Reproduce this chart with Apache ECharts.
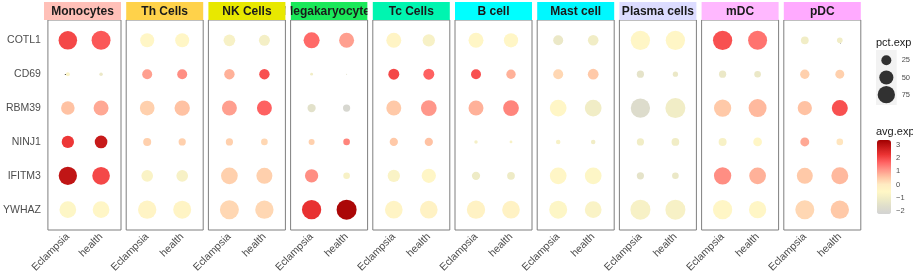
<!DOCTYPE html>
<html><head><meta charset="utf-8">
<script src="https://cdn.jsdelivr.net/npm/echarts@6/dist/echarts.min.js"></script>
<style>html,body{margin:0;padding:0;background:#fff}#c{width:913px;height:276px}</style>
</head><body><div id="c"></div>
<script>
const cellTypes = ['Monocytes','Th Cells','NK Cells','Megakaryocyte','Tc Cells','B cell','Mast cell','Plasma cells','mDC','pDC'];
const genes = ['COTL1','CD69','RBM39','NINJ1','IFITM3','YWHAZ'];
const groups = ['Eclampsia','health'];
// percent expressed, rows = cell types, columns = genes
const pctEclampsia = [
  [86, 4, 46, 38, 84, 70],
  [49, 25, 54, 16, 34, 84],
  [34, 27, 56, 13, 70, 90],
  [64, 2, 17, 9, 44, 93],
  [56, 30, 56, 17, 38, 78],
  [56, 25, 56, 3, 17, 84],
  [25, 25, 70, 5, 70, 81],
  [93, 13, 93, 13, 13, 100],
  [93, 13, 75, 16, 75, 93],
  [15, 22, 51, 20, 64, 90]
];
const pctHealth = [
  [90, 3, 56, 40, 78, 70],
  [49, 25, 59, 13, 34, 81],
  [30, 27, 56, 11, 64, 84],
  [56, 0.3, 13, 11, 11, 100],
  [38, 30, 62, 17, 51, 78],
  [51, 22, 62, 2, 15, 78],
  [28, 29, 70, 5, 70, 70],
  [93, 7, 100, 15, 11, 100],
  [90, 11, 81, 19, 70, 75],
  [8, 20, 64, 11, 72, 84]
];
// average scaled expression
const avgEclampsia = [
  [2.0, -0.7, 0.6, 2.2, 2.9, -0.6],
  [-0.5, 1.0, 0.4, 0.4, -0.7, -0.4],
  [-0.8, 0.8, 1.0, 0.4, 0.4, 0.3],
  [1.6, -1.0, -1.5, 0.4, 1.2, 2.3],
  [-0.4, 2.0, 0.5, 0.5, -0.7, -0.4],
  [-0.5, 1.9, 0.8, -0.9, -1.1, -0.3],
  [-1.2, 0.3, -0.5, -0.8, -0.5, -0.6],
  [-0.5, -1.4, -1.7, -1.0, -1.4, -0.8],
  [1.9, -1.2, 0.5, -0.8, 1.2, -0.5],
  [-1.0, 0.4, 0.6, 0.9, 0.5, 0.3]
];
const avgHealth = [
  [1.8, -1.2, 0.9, 2.8, 2.0, -0.5],
  [-0.5, 1.2, 0.6, 0.4, -0.8, -0.4],
  [-0.9, 1.9, 1.7, 0.3, 0.4, 0.3],
  [1.0, -1.5, -2.0, 1.3, -0.8, 3.2],
  [-0.8, 1.7, 1.1, 0.6, -0.5, -0.3],
  [-0.5, 0.8, 1.3, -0.8, -1.1, -0.3],
  [-1.0, 0.5, -1.0, -1.0, -0.6, -0.7],
  [-0.5, -1.2, -1.0, -1.0, -1.2, -0.8],
  [1.5, -1.2, 0.7, -0.5, 0.8, -0.5],
  [-1.0, 0.4, 1.9, 0.1, 0.7, 0.5]
];
const stripColors = ['#FFC0B8','#FFD24A','#E8E800','#1AE85A','#00F5B0','#00FFFF','#00F8FF','#DCDCFF','#FFB8FF','#FFAAFF'];
const sizeLegendValues = [25, 50, 75];
const colorTicks = [-2, -1, 0, 1, 2, 3];
const colorMin = -2.2, colorMax = 3.35;

const FONT = "'Liberation Sans', Arial, sans-serif";
const sizeFn = v => 2 * Math.sqrt(v[2]);
const P0 = 44, STEP = 82.2, PW = 77, PT = 20, PH = 210;

const grids = [], xAxes = [], yAxes = [], series = [], graphics = [];
cellTypes.forEach((ct, i) => {
  const left = P0 + i * STEP;
  grids.push({left: left, top: PT, width: PW, height: PH, show: true, borderColor: '#7F7F7F', borderWidth: 1, backgroundColor: '#fff'});
  xAxes.push({type: 'value', gridIndex: i, min: -0.6, max: 1.6,
    axisLine: {show: false}, splitLine: {show: false},
    axisTick: {show: true, length: 3, lineStyle: {color: '#333'}, customValues: [0, 1]},
    axisLabel: {show: true, rotate: 45, fontSize: 10.5, color: '#4D4D4D', fontFamily: FONT, margin: 5,
      customValues: [0, 1], formatter: v => groups[Math.round(v)] || ''}});
  yAxes.push({type: 'value', gridIndex: i, min: -0.6, max: 5.6, inverse: true,
    axisLine: {show: false}, splitLine: {show: false},
    axisTick: {show: i === 0, length: 3, lineStyle: {color: '#333'}, customValues: [0,1,2,3,4,5]},
    axisLabel: {show: i === 0, fontSize: 10.5, color: '#4D4D4D', fontFamily: FONT, margin: 7,
      customValues: [0,1,2,3,4,5], formatter: v => genes[Math.round(v)] || ''}});
  const data = [];
  genes.forEach((g, gi) => {
    data.push([0, gi, pctEclampsia[i][gi], avgEclampsia[i][gi]]);
    data.push([1, gi, pctHealth[i][gi], avgHealth[i][gi]]);
  });
  series.push({type: 'scatter', xAxisIndex: i, yAxisIndex: i, data: data, symbolSize: sizeFn,
    itemStyle: {opacity: 1}, emphasis: {disabled: true}, silent: true});
  // strip header
  const isMega = ct === 'Megakaryocyte';
  graphics.push({type: 'rect', shape: {x: left, y: 2, width: PW, height: 18}, style: {fill: stripColors[i]}, z: isMega ? 4 : 10});
  graphics.push({type: 'text', x: left + PW / 2 - (isMega ? 2.5 : 0), y: 11.5, z: isMega ? 5 : 11,
    style: {text: ct, fill: '#1A1A1A', font: 'bold 12px ' + FONT, align: 'center', verticalAlign: 'middle'}});
  if (i > 0) {
    graphics.push({type: 'rect', shape: {x: left - (STEP - PW), y: 0, width: STEP - PW, height: 20}, style: {fill: '#fff'}, z: 9});
  }
});

// size legend grid
const nS = cellTypes.length;
grids.push({left: 876, top: 50, width: 22, height: 55, show: true, backgroundColor: '#F2F2F2', borderWidth: 0});
xAxes.push({type: 'value', gridIndex: nS, min: -1, max: 1, show: false});
yAxes.push({type: 'value', gridIndex: nS, min: -0.6, max: 2.6, inverse: true, position: 'right',
  axisLine: {show: false}, axisTick: {show: false}, splitLine: {show: false},
  axisLabel: {show: true, fontSize: 7.5, color: '#4D4D4D', fontFamily: FONT, margin: 5,
    customValues: [0, 1, 2], formatter: v => String(sizeLegendValues[Math.round(v)])}});
series.push({type: 'scatter', xAxisIndex: nS, yAxisIndex: nS, silent: true,
  data: sizeLegendValues.map((v, k) => [0, k, v]), symbolSize: sizeFn, itemStyle: {color: '#000'}});

// color bar axis grid
grids.push({left: 877, top: 140, width: 14, height: 74, show: false});
xAxes.push({type: 'value', gridIndex: nS + 1, min: 0, max: 1, show: false});
yAxes.push({type: 'value', gridIndex: nS + 1, min: colorMin, max: colorMax, position: 'right',
  axisLine: {show: false}, splitLine: {show: false},
  axisTick: {show: true, inside: true, length: 3, lineStyle: {color: '#fff'}, customValues: colorTicks},
  axisLabel: {show: true, fontSize: 7.5, color: '#4D4D4D', fontFamily: FONT, margin: 5,
    customValues: colorTicks, formatter: v => (v < 0 ? '\u2212' + Math.abs(v) : String(v))}});

graphics.push({type: 'text', x: 876, y: 43, style: {text: 'pct.exp', font: '11px ' + FONT, fill: '#1A1A1A', verticalAlign: 'middle'}});
graphics.push({type: 'text', x: 876, y: 132, style: {text: 'avg.exp', font: '11px ' + FONT, fill: '#1A1A1A', verticalAlign: 'middle'}});

const chart = echarts.init(document.getElementById('c'), null, {renderer: 'canvas'});
chart.setOption({
  animation: false,
  textStyle: {fontFamily: FONT},
  grid: grids, xAxis: xAxes, yAxis: yAxes, series: series,
  visualMap: {type: 'continuous', min: colorMin, max: colorMax, dimension: 3,
    seriesIndex: cellTypes.map((c, i) => i),
    left: 877, top: 140, itemWidth: 14, itemHeight: 74, padding: 0,
    calculable: false, text: ['', ''], showLabel: false, realtime: false, hoverLink: false,
    inRange: {color: ['#D3D3D3','#DEDDCB','#EEEBC6','#FFF7C6','#FFEBC2','#FFC4A4','#FF9488','#FF6262','#EC3434','#C71A1A','#A00000']}},
  graphic: {elements: graphics}
});
</script></body></html>
